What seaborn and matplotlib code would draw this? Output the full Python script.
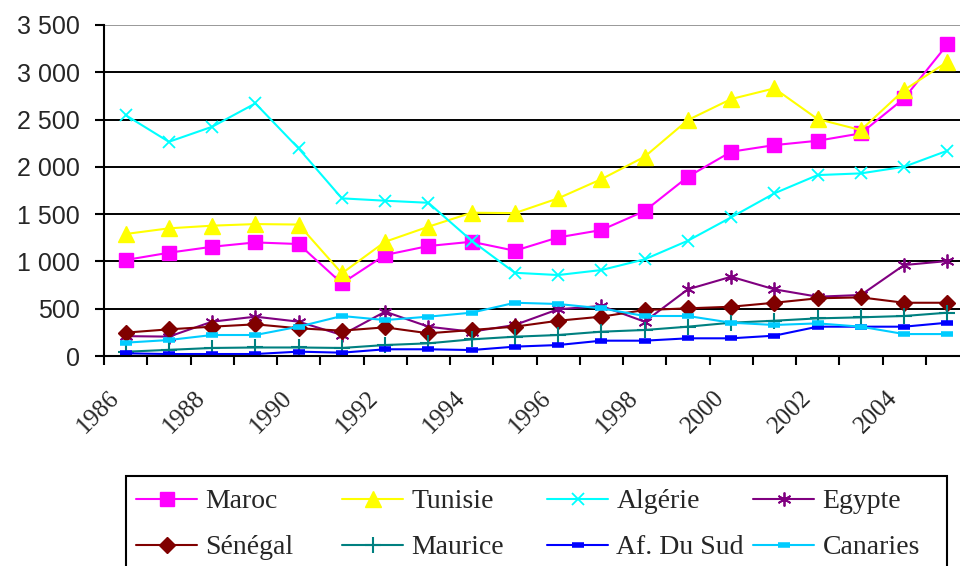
import matplotlib
matplotlib.use("Agg")
import matplotlib.pyplot as plt
import matplotlib.transforms as mtransforms
from matplotlib.patches import Rectangle
import numpy as np
import pandas as pd
import seaborn as sns

# Values
years = [1986, 1987, 1988, 1989, 1990, 1991, 1992, 1993, 1994, 1995,
         1996, 1997, 1998, 1999, 2000, 2001, 2002, 2003, 2004, 2005]
year_labels = ["1986", "1988", "1990", "1992", "1994", "1996", "1998", "2000", "2002", "2004"]

maroc = [1015, 1092, 1155, 1201, 1184, 768, 1068, 1163, 1208, 1113,
         1254, 1332, 1533, 1895, 2160, 2230, 2276, 2354, 2724, 3295]
tunisie = [1290, 1350, 1378, 1395, 1390, 874, 1208, 1367, 1515, 1511,
           1667, 1870, 2107, 2495, 2717, 2830, 2505, 2389, 2812, 3111]
algerie = [2547, 2265, 2424, 2671, 2195, 1667, 1642, 1620, 1219, 880,
           856, 909, 1022, 1219, 1466, 1720, 1913, 1931, 2001, 2171]
egypte = [210, 205, 363, 416, 363, 222, 469, 310, 257, 328,
          494, 529, 363, 705, 838, 705, 627, 645, 962, 1004]
senegal = [247, 282, 310, 335, 293, 268, 303, 240, 275, 310,
           373, 416, 486, 504, 521, 563, 610, 620, 563, 563]
maurice = [45, 65, 85, 90, 90, 85, 116, 134, 176, 204,
           222, 257, 275, 310, 352, 373, 398, 409, 423, 458]
afsud = [28, 21, 21, 21, 46, 35, 71, 71, 63, 99,
         116, 162, 162, 187, 187, 215, 310, 310, 310, 352]
canaries = [141, 169, 222, 222, 310, 423, 380, 416, 458, 563,
            550, 504, 423, 423, 352, 328, 345, 310, 232, 232]

names = ["Maroc", "Tunisie", "Algérie", "Egypte",
         "Sénégal", "Maurice", "Af. Du Sud", "Canaries"]
values = [maroc, tunisie, algerie, egypte, senegal, maurice, afsud, canaries]
colors = ["#FF00FF", "#FFFF00", "#00FFFF", "#800080",
          "#800000", "#008080", "#0000FF", "#00CCFF"]
markers = ["s", "^", "x", (6, 2, 0), "D", "+", "_", "_"]
msizes = [10, 11, 9, 10, 8, 12, 8, 8]
mews = [1, 1, 1.3, 1.3, 1, 1.5, 4, 4]

rows = []
for name, vals in zip(names, values):
    for i, (yr, v) in enumerate(zip(years, vals)):
        rows.append({"pays": name, "pos": i, "annee": yr, "valeur": v})
df = pd.DataFrame(rows)

sns.set_style("white")

W, H = 960, 566
fig = plt.figure(figsize=(W / 100, H / 100), dpi=100)
ax = fig.add_axes([104 / W, 1 - 356 / H, 865 / W, 331 / H])

for name, col, mk, ms, mw in zip(names, colors, markers, msizes, mews):
    sub = df[df["pays"] == name]
    sns.lineplot(data=sub, x="pos", y="valeur", ax=ax, color=col, lw=1.5,
                 marker=mk, markersize=ms, markeredgecolor=col,
                 markerfacecolor=col, markeredgewidth=mw, label=name)

ax.set_xlim(-0.5, len(years) - 0.5)
ax.set_ylim(0, 3500)
ax.set_xlabel("")
ax.set_ylabel("")

yt = list(range(0, 3501, 500))
ax.set_yticks(yt)
ax.set_yticklabels([f"{v:,}".replace(",", " ") for v in yt],
                   fontfamily="Liberation Sans", fontsize=18)
ax.tick_params(axis="y", direction="out", length=6.5, width=1.5, pad=11, color="black", left=True)

label_pos = [years.index(int(y)) for y in year_labels]
ax.set_xticks(label_pos)
ax.set_xticklabels(year_labels, rotation=45, ha="right", va="center",
                   rotation_mode="anchor", fontfamily="Liberation Serif", fontsize=18)
ax.set_xticks(np.arange(-0.5, len(years), 1.0), minor=True)
ax.tick_params(axis="x", which="major", length=0, pad=28)
ax.tick_params(axis="x", which="minor", direction="out", length=6.5, width=1.5,
               color="black", bottom=True)
shift = mtransforms.ScaledTranslation(-10 / 100, 0, fig.dpi_scale_trans)
for lab in ax.get_xticklabels():
    lab.set_transform(lab.get_transform() + shift)

ax.yaxis.grid(True, color="black", lw=1.4)
ax.xaxis.grid(False)
ax.set_axisbelow(True)
ax.get_ygridlines()[-1].set_color("#999999")
for side in ["top", "right"]:
    ax.spines[side].set_visible(False)
for side in ["left", "bottom"]:
    ax.spines[side].set_color("black")
    ax.spines[side].set_linewidth(1.5)

# legend: one small legend per column so the columns are evenly spaced
handles, labels = ax.get_legend_handles_labels()
if ax.legend_:
    ax.legend_.remove()
col_x = [136, 342, 547, 753]
for j, x0 in enumerate(col_x):
    idx = [j, j + 4]
    lg = fig.legend([handles[i] for i in idx], [labels[i] for i in idx],
                    loc="upper left", bbox_to_anchor=(x0 / W, 1 - 489 / H),
                    borderaxespad=0, borderpad=0, frameon=False,
                    prop={"family": "Liberation Serif", "size": 20},
                    handlelength=2.2, handletextpad=0.3, labelspacing=0.74)
fig.patches.append(Rectangle((126 / W, -0.05), (947 - 126) / W, 0.05 + 1 - 476 / H,
                             transform=fig.transFigure, fill=False,
                             edgecolor="black", lw=1.5))

fig.savefig("out.png", dpi=100)
